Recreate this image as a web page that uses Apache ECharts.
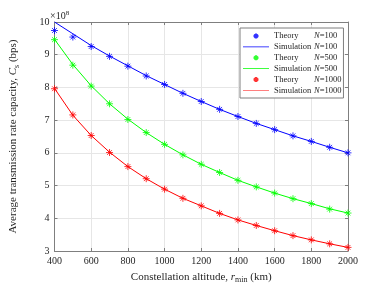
<!DOCTYPE html>
<html><head><meta charset="utf-8">
<script src="https://cdn.jsdelivr.net/npm/echarts@6/dist/echarts.min.js"></script>
<style>html,body{margin:0;padding:0;background:#fff}#c{width:385px;height:289px}</style>
</head><body><div id="c"></div>
<script>
const altitudes = [400,500,600,700,800,900,1000,1100,1200,1300,1400,1500,1600,1700,1800,1900,2000];
const theory100 = [9.74,9.54,9.25,8.95,8.65,8.35,8.09,7.82,7.57,7.33,7.11,6.90,6.71,6.52,6.35,6.17,6.00];
const sim100    = [10.0,9.64,9.28,8.96,8.66,8.36,8.09,7.82,7.57,7.33,7.11,6.90,6.71,6.52,6.35,6.17,6.00];
const theory500 = [9.46,8.68,8.04,7.50,7.02,6.62,6.26,5.94,5.65,5.40,5.16,4.96,4.77,4.60,4.45,4.28,4.16];
const sim500    = [9.47,8.70,8.05,7.50,7.03,6.62,6.26,5.94,5.65,5.40,5.16,4.96,4.77,4.60,4.45,4.29,4.16];
const theory1000= [7.96,7.16,6.53,6.01,5.58,5.21,4.89,4.61,4.38,4.15,3.95,3.78,3.62,3.47,3.34,3.22,3.11];
const sim1000   = [7.97,7.15,6.53,6.02,5.58,5.21,4.89,4.61,4.38,4.15,3.95,3.78,3.62,3.47,3.34,3.22,3.11];
const yTicks = [3,4,5,6,7,8,9,10];
const xTicks = [400,600,800,1000,1200,1400,1600,1800,2000];

const FONT = 'Liberation Serif';
const TXT = '#262626';
const star = 'path://M5,0L5,10M0,5L10,5M1.6,1.6L8.4,8.4M1.6,8.4L8.4,1.6';
const smallStar = 'path://M-3,-3M13,13M5,0L5,10M0,5L10,5M1.6,1.6L8.4,8.4M1.6,8.4L8.4,1.6';
const lineIcon = 'path://M0,0L0.001,0L0,0.001ZM0,3.6L28,3.6L28,4.4L0,4.4ZM28,8L27.999,8L28,7.999Z';
const pairs = ys => altitudes.map((x,i)=>[x,ys[i]]);

function theory(name, ys, color){
  return {name, type:'scatter', data:pairs(ys), symbol:star, symbolSize:7,
    itemStyle:{color:color, borderColor:color, borderWidth:1}, z:3};
}
function sim(name, ys, color){
  return {name, type:'line', data:pairs(ys), showSymbol:false, symbol:'none',
    lineStyle:{color:color, width:1}, itemStyle:{color:color}, z:2};
}
const legendLabels = {
  'Theory N=100':'{a|Theory}{i|N}{b|=100}',
  'Simulation N=100':'{a|Simulation}{i|N}{b|=100}',
  'Theory N=500':'{a|Theory}{i|N}{b|=500}',
  'Simulation N=500':'{a|Simulation}{i|N}{b|=500}',
  'Theory N=1000':'{a|Theory}{i|N}{b|=1000}',
  'Simulation N=1000':'{a|Simulation}{i|N}{b|=1000}'
};
const legendData = Object.keys(legendLabels).map(n =>
  n.startsWith('Simulation') ? {name:n, icon:lineIcon} : {name:n, icon:smallStar});
const axisLineStyle = {color:'#7f7f7f', width:1};
const chart = echarts.init(document.getElementById('c'), null, {renderer:'canvas'});
chart.setOption({
  animation:false,
  backgroundColor:'#fff',
  textStyle:{fontFamily:FONT},
  grid:{left:50, right:37, top:22, bottom:32},
  xAxis:[{
    type:'value', min:400, max:2000, interval:200,
    name:'Constellation altitude, {i|r}{sub|min} (km)', nameLocation:'middle', nameGap:19,
    nameTextStyle:{fontFamily:FONT, fontSize:11, color:TXT,
      rich:{i:{fontFamily:FONT, fontStyle:'italic', fontSize:11, color:TXT},
            sub:{fontFamily:FONT, fontSize:8, color:TXT, verticalAlign:'bottom', padding:[6,0,0,0]}}},
    axisLine:{lineStyle:axisLineStyle}, axisTick:{inside:true, length:3, lineStyle:axisLineStyle},
    axisLabel:{fontFamily:FONT, fontSize:10, color:TXT, margin:5, formatter:v=>String(v)},
    splitLine:{show:true, lineStyle:{color:'#e6e6e6', width:1}}
  },{
    type:'value', min:400, max:2000, interval:200, position:'top',
    axisLine:{lineStyle:axisLineStyle}, axisTick:{inside:true, length:3, lineStyle:axisLineStyle},
    axisLabel:{show:false}, splitLine:{show:false}
  }],
  yAxis:[{
    type:'value', min:3, max:10, interval:1,
    name:'Average transmission rate capacity, {i|C}{sub|s} (bps)', nameLocation:'middle', nameGap:34,
    nameTextStyle:{fontFamily:FONT, fontSize:11, color:TXT,
      rich:{i:{fontFamily:FONT, fontStyle:'italic', fontSize:11, color:TXT},
            sub:{fontFamily:FONT, fontSize:8, color:TXT, verticalAlign:'bottom', padding:[6,0,0,0]}}},
    axisLine:{lineStyle:axisLineStyle}, axisTick:{inside:true, length:3, lineStyle:axisLineStyle},
    axisLabel:{fontFamily:FONT, fontSize:10, color:TXT, margin:5},
    splitLine:{show:true, lineStyle:{color:'#e6e6e6', width:1}}
  },{
    type:'value', min:3, max:10, interval:1, position:'right',
    axisLine:{show:true, lineStyle:axisLineStyle}, axisTick:{show:true, inside:true, length:3, lineStyle:axisLineStyle},
    axisLabel:{show:false}, splitLine:{show:false}
  }],
  legend:{
    orient:'vertical', left:240, top:28, itemGap:1.4, itemWidth:26, itemHeight:8,
    padding:[3,2,3,3], backgroundColor:'#fff', borderColor:'#7f7f7f', borderWidth:1,
    data:legendData,
    formatter:n=>legendLabels[n],
    textStyle:{fontFamily:FONT, fontSize:8.5, color:TXT, lineHeight:8,
      rich:{a:{fontFamily:FONT, fontSize:8.5, color:TXT, width:40, lineHeight:8},
            i:{fontFamily:FONT, fontSize:8.5, color:TXT, fontStyle:'italic', lineHeight:8},
            b:{fontFamily:FONT, fontSize:8.5, color:TXT, lineHeight:8}}}
  },
  graphic:[{
    type:'text', left:50, top:10,
    style:{text:'×10{s|8}', fontFamily:FONT, fontSize:10, fill:TXT,
      rich:{s:{fontFamily:FONT, fontSize:7, fill:TXT, verticalAlign:'top', padding:[0,0,6,0]}}}
  }],
  series:[
    theory('Theory N=100', theory100, '#0000ff'),
    sim('Simulation N=100', sim100, '#0000ff'),
    theory('Theory N=500', theory500, '#00ff00'),
    sim('Simulation N=500', sim500, '#00ff00'),
    theory('Theory N=1000', theory1000, '#ff0000'),
    sim('Simulation N=1000', sim1000, '#ff0000')
  ]
});
</script></body></html>
